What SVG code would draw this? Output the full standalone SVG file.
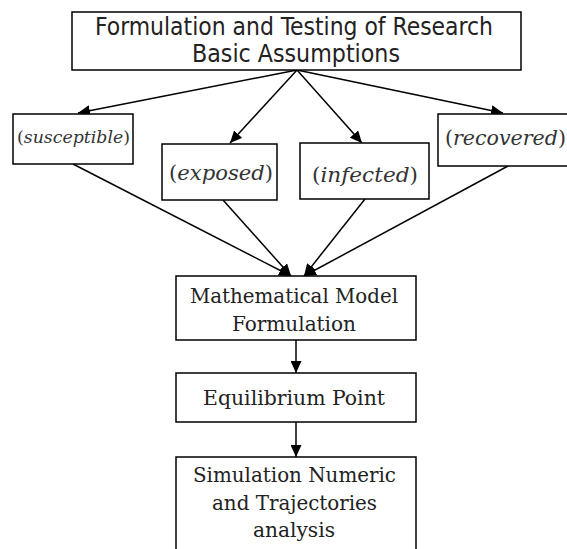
<svg xmlns="http://www.w3.org/2000/svg" width="567" height="549" viewBox="0 0 567 549">
<style>
.box{fill:#fff;stroke:#000;stroke-width:1.5}
.sans{font-family:"DejaVu Sans Condensed","DejaVu Sans","Liberation Sans",sans-serif;font-size:24px;fill:#222}
.slab{font-family:"DejaVu Serif Condensed","DejaVu Serif","Liberation Serif",serif;font-size:21px;fill:#222}
.ital{font-family:"DejaVu Serif Condensed","DejaVu Serif","Liberation Serif",serif;font-size:20px;fill:#333}
.it{font-style:italic}
.edge{stroke:#000;stroke-width:1.5;fill:none;marker-end:url(#ah)}
</style>
<defs>
<marker id="ah" markerUnits="userSpaceOnUse" markerWidth="13" markerHeight="11" refX="12" refY="5.5" orient="auto">
<path d="M0,0 L12,5.5 L0,11 z" fill="#000"/>
</marker>
</defs>
<rect width="567" height="549" fill="#fff"/>
<g id="connectors">
<line class="edge" x1="297" y1="70" x2="78" y2="113"/>
<line class="edge" x1="297" y1="70" x2="230" y2="143"/>
<line class="edge" x1="297" y1="70" x2="362" y2="143"/>
<line class="edge" x1="297" y1="70" x2="503" y2="113"/>
<line class="edge" x1="73" y1="164" x2="291" y2="276"/>
<line class="edge" x1="223" y1="200" x2="291" y2="276"/>
<line class="edge" x1="365" y1="199" x2="304" y2="276"/>
<line class="edge" x1="508" y1="166" x2="304" y2="276"/>
<line class="edge" x1="296" y1="340" x2="296" y2="373"/>
<line class="edge" x1="296" y1="422" x2="296" y2="457"/>
</g>
<g id="assumptions">
<rect class="box" x="72" y="12" width="449" height="58"/>
<text class="sans" x="95" y="35" textLength="398" lengthAdjust="spacingAndGlyphs">Formulation and Testing of Research</text>
<text class="sans" x="192" y="62" textLength="208" lengthAdjust="spacingAndGlyphs">Basic Assumptions</text>
</g>
<g id="susceptible">
<rect class="box" x="13" y="114" width="120" height="50"/>
<text class="ital" style="font-size:17px" x="17" y="143" textLength="113" lengthAdjust="spacingAndGlyphs">(<tspan class="it">susceptible</tspan>)</text>
</g>
<g id="exposed">
<rect class="box" x="162" y="144" width="115" height="56"/>
<text class="ital" x="169" y="180" textLength="104" lengthAdjust="spacingAndGlyphs">(<tspan class="it">exposed</tspan>)</text>
</g>
<g id="infected">
<rect class="box" x="300" y="143" width="129" height="56"/>
<text class="ital" x="312" y="182" textLength="106" lengthAdjust="spacingAndGlyphs">(<tspan class="it">infected</tspan>)</text>
</g>
<g id="recovered">
<rect class="box" x="438" y="114" width="135" height="52"/>
<text class="ital" x="445" y="145" textLength="121" lengthAdjust="spacingAndGlyphs">(<tspan class="it">recovered</tspan>)</text>
</g>
<g id="model">
<rect class="box" x="176" y="276" width="240" height="64"/>
<text class="slab" x="190" y="303" textLength="208" lengthAdjust="spacingAndGlyphs">Mathematical Model</text>
<text class="slab" x="232" y="331" textLength="124" lengthAdjust="spacingAndGlyphs">Formulation</text>
</g>
<g id="equilibrium">
<rect class="box" x="176" y="373" width="240" height="49"/>
<text class="slab" x="203" y="405" textLength="182" lengthAdjust="spacingAndGlyphs">Equilibrium Point</text>
</g>
<g id="simulation">
<rect class="box" x="176" y="457" width="240" height="100"/>
<text class="slab" x="193" y="482" textLength="203" lengthAdjust="spacingAndGlyphs">Simulation Numeric</text>
<text class="slab" x="212" y="510" textLength="165" lengthAdjust="spacingAndGlyphs">and Trajectories</text>
<text class="slab" x="253" y="537" textLength="82" lengthAdjust="spacingAndGlyphs">analysis</text>
</g>
</svg>
